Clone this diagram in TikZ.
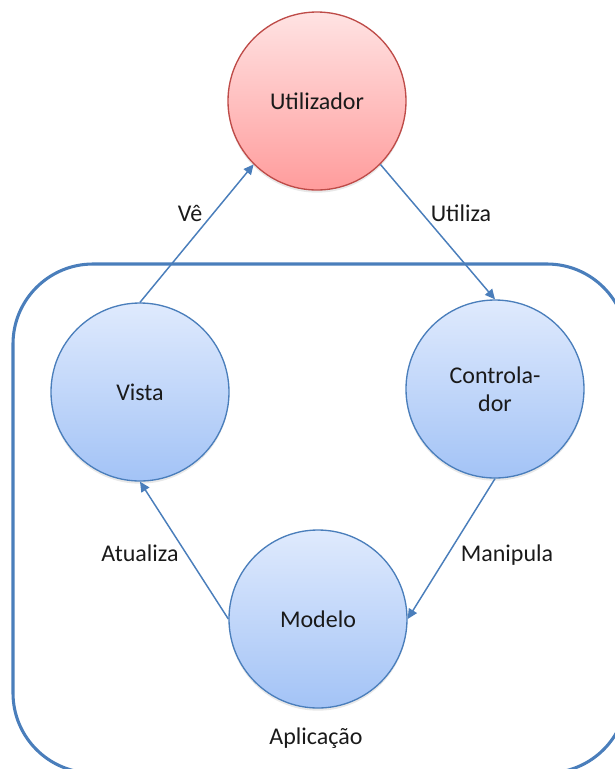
\documentclass[tikz,border=0pt]{standalone}
\usepackage{fontspec}
\setmainfont{Carlito}
\usetikzlibrary{arrows.meta,shadows}

\definecolor{edgeblue}{HTML}{4A7EBB}
\definecolor{fillbluetop}{HTML}{DFEAFD}
\definecolor{fillbluebot}{HTML}{A3C3F6}
\definecolor{fillredtop}{HTML}{FFE3E3}
\definecolor{fillredbot}{HTML}{FF9C9C}
\definecolor{edgered}{HTML}{BE4B48}
\definecolor{textdark}{HTML}{1A1A1A}

\tikzset{
  role/.style={circle, minimum size=133.5pt, inner sep=0pt, line width=1pt,
    text=textdark, font=\fontsize{18}{21}\selectfont, align=center,
    drop shadow={opacity=0.18, shadow xshift=0pt, shadow yshift=-2pt}},
  bluerole/.style={role, draw=edgeblue, top color=fillbluetop, bottom color=fillbluebot},
  redrole/.style={role, draw=edgered, top color=fillredtop, bottom color=fillredbot},
  flow/.style={draw=edgeblue, line width=1.1pt,
    -{Triangle[length=7.5pt,width=7pt]}},
  tag/.style={text=textdark, font=\fontsize{18}{21}\selectfont, inner sep=0pt},
  appframe/.style={draw=edgeblue, line width=2.3pt, rounded corners=60pt}
}

\begin{document}
\begin{tikzpicture}[x=0.75pt,y=-0.75pt]
  \useasboundingbox (0,0) rectangle (615,769);
  \clip (0,0) rectangle (615,769);

  % application frame
  \draw[appframe] (13,264) rectangle (627,773);

  % participants
  \node[redrole]  (user) at (317,101) {Utilizador};
  \node[bluerole] (view) at (140,392) {Vista};
  \node[bluerole] (ctrl) at (495,389) {Controla-\\dor};
  \node[bluerole] (model) at (318,619) {Modelo};

  % interactions
  \draw[flow] (view.north) -- (user.south west);
  \draw[flow] (user.south east) -- (ctrl.north);
  \draw[flow] (ctrl.south) -- (model.east);
  \draw[flow] (model.west) -- (view.south);

  % labels
  \node[tag] (seeslbl)   at (190,213) {Vê};
  \node[tag] (useslbl)   at (461,213) {Utiliza};
  \node[tag] (updlbl)    at (140,553) {Atualiza};
  \node[tag] (manlbl)    at (507,555) {Manipula};
  \node[tag] (applbl)    at (316,738) {Aplicação};
\end{tikzpicture}
\end{document}
